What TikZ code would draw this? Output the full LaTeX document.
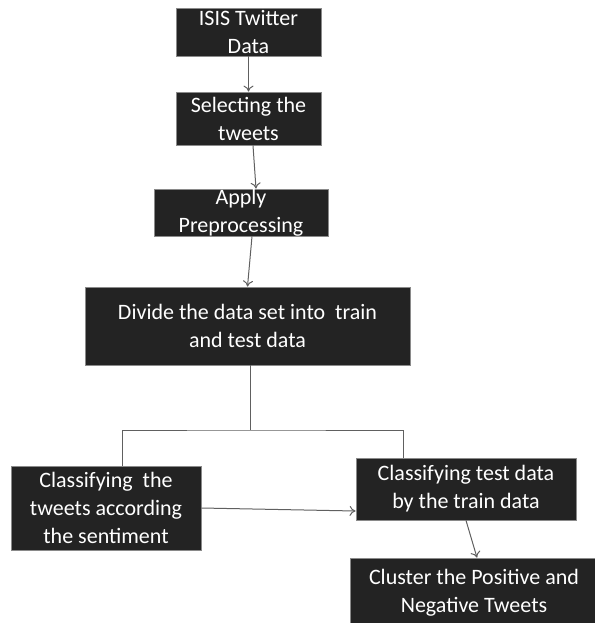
\documentclass[tikz,border=0pt]{standalone}
\usepackage{fontspec}
\setmainfont{Carlito}
\usetikzlibrary{arrows.meta}
\definecolor{boxfill}{HTML}{232323}
\definecolor{boxline}{HTML}{8A8A8A}
\definecolor{linkgray}{HTML}{606060}
\begin{document}
\begin{tikzpicture}[x=0.5pt,y=-0.5pt,
  box/.style={rectangle,draw=boxline,fill=boxfill,text=white,align=center,
    inner sep=0pt,font=\fontsize{11}{14}\selectfont},
  link/.style={draw=linkgray,line width=0.5pt},
  >={To[length=3pt,width=5pt]}]
\useasboundingbox (0,0) rectangle (595,623);
\node[box,minimum width=72.5pt,minimum height=24pt] (isis) at (248.5,32) {ISIS Twitter\\Data};
\node[box,minimum width=72.5pt,minimum height=26.5pt] (select) at (248.5,118.5) {Selecting the\\tweets};
\node[box,minimum width=87pt,minimum height=23.5pt] (prep) at (241,212.5) {Apply\\Preprocessing};
\node[box,minimum width=162.5pt,minimum height=39pt] (divide) at (247.5,326) {Divide the data set into\ \ train\\and test data};
\node[box,minimum width=95pt,minimum height=42pt] (classtw) at (106,508) {Classifying\ \ the\\tweets according\\the sentiment};
\node[box,minimum width=110pt,minimum height=31pt] (classtest) at (466,489) {Classifying test data\\by the train data};
\node[box,minimum width=124pt,minimum height=35pt] (cluster) at (474,593) {Cluster the Positive and\\Negative Tweets};
\coordinate (split) at (250,430);
\path[link]
  (isis) edge[->] (select)
  ([xshift=2.25pt]select.south) edge[->] ([xshift=7.5pt]prep.north)
  ([xshift=5.5pt]prep.south) edge[->] (divide.north)
  ([xshift=1.25pt]divide.south) edge (split)
  (classtw.east) edge[->] ([yshift=-11pt]classtest.west)
  (classtest.south) edge[->] ([xshift=1.5pt]cluster.north)
;
\draw[link] ([xshift=8pt]classtw.north) |- (split) -| ([xshift=-31.5pt]classtest.north);
\end{tikzpicture}
\end{document}
